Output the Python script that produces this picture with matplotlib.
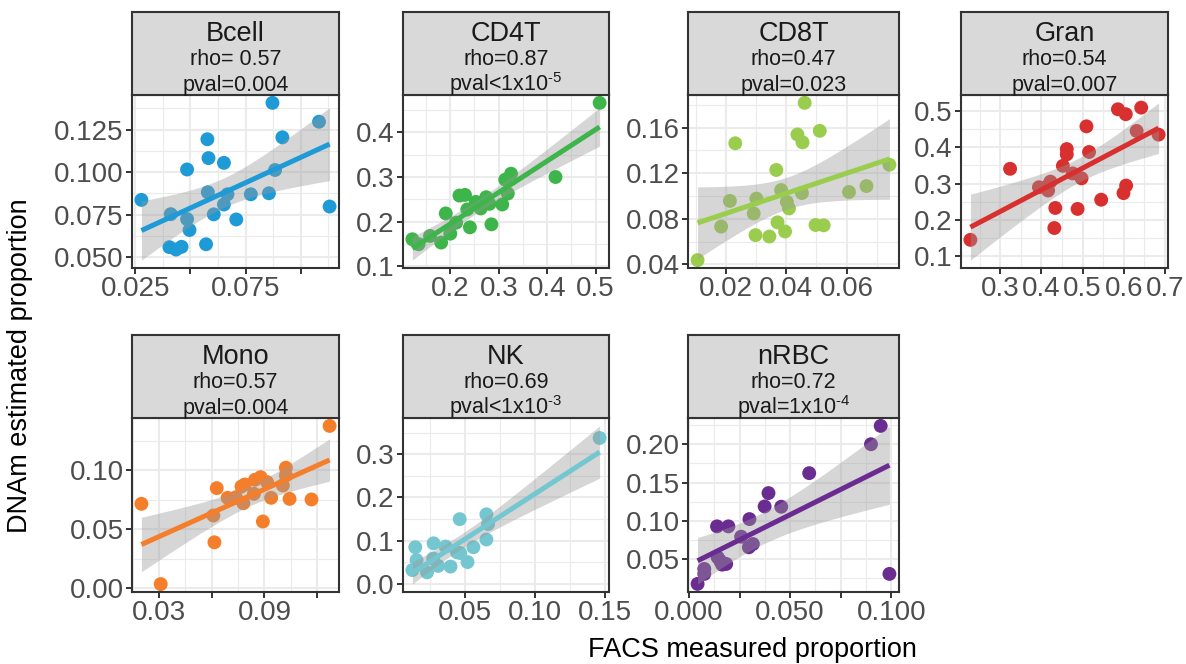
import numpy as np
import matplotlib
matplotlib.use("Agg")
import matplotlib.pyplot as plt
from matplotlib.ticker import FixedLocator, AutoMinorLocator

plt.rcParams['font.family'] = ['Liberation Sans', 'DejaVu Sans']
plt.rcParams['mathtext.fontset'] = 'custom'
plt.rcParams['mathtext.rm'] = 'Liberation Sans'
plt.rcParams['mathtext.it'] = 'Liberation Sans'

# ---------------- data ----------------
bcell_x = [0.0278, 0.0411, 0.0405, 0.0435, 0.0460, 0.0485, 0.0485, 0.0496, 0.0577, 0.0582,
           0.0571, 0.0579, 0.0606, 0.0652, 0.0652, 0.0668, 0.0708, 0.0774, 0.0856, 0.0872,
           0.0884, 0.0917, 0.1083, 0.1131]
bcell_y = [0.0837, 0.0753, 0.0559, 0.0545, 0.0561, 0.1016, 0.0724, 0.0660, 0.1194, 0.1083,
           0.0576, 0.0882, 0.0752, 0.1055, 0.0810, 0.0870, 0.0722, 0.0870, 0.0876, 0.1408,
           0.1013, 0.1205, 0.1297, 0.0798]

cd4t_x = [0.1217, 0.1345, 0.1582, 0.1811, 0.1906, 0.2000, 0.2121, 0.2189, 0.2304, 0.2351,
          0.2405, 0.2526, 0.2628, 0.2742, 0.2810, 0.2850, 0.3073, 0.3134, 0.3188, 0.3255,
          0.4173, 0.5084]
cd4t_y = [0.1607, 0.1496, 0.1681, 0.1533, 0.2185, 0.1733, 0.1978, 0.2585, 0.2600, 0.2274,
          0.1874, 0.2444, 0.2296, 0.2548, 0.2400, 0.1941, 0.2385, 0.2941, 0.2630, 0.3074,
          0.3000, 0.4659]

cd8t_x = [0.0106, 0.0184, 0.0213, 0.0231, 0.0292, 0.0298, 0.0301, 0.0344, 0.0367, 0.0371,
          0.0383, 0.0396, 0.0402, 0.0409, 0.0437, 0.0454, 0.0452, 0.0461, 0.0497, 0.0524,
          0.0511, 0.0608, 0.0666, 0.0742]
cd8t_y = [0.0438, 0.0732, 0.0957, 0.1462, 0.0847, 0.0657, 0.0977, 0.0645, 0.1228, 0.0769,
          0.1052, 0.0689, 0.0948, 0.0891, 0.1539, 0.1470, 0.1026, 0.1816, 0.0746, 0.0743,
          0.1571, 0.1035, 0.1087, 0.1274]

gran_x = [0.2276, 0.3239, 0.3939, 0.4138, 0.4161, 0.4217, 0.4336, 0.4313, 0.4520, 0.4615,
          0.4615, 0.4758, 0.4877, 0.4973, 0.5092, 0.5156, 0.5450, 0.5856, 0.6047, 0.5991,
          0.6055, 0.6310, 0.6421, 0.6843]
gran_y = [0.1453, 0.3407, 0.2900, 0.2919, 0.2810, 0.3054, 0.2330, 0.1778, 0.3489, 0.3950,
          0.3805, 0.3280, 0.2303, 0.3145, 0.4575, 0.3869, 0.2557, 0.5045, 0.4910, 0.2738,
          0.2946, 0.4448, 0.5090, 0.4348]

mono_x = [0.0199, 0.0309, 0.0609, 0.0615, 0.0628, 0.0690, 0.0737, 0.0769, 0.0788, 0.0780,
          0.0840, 0.0846, 0.0878, 0.0891, 0.0915, 0.0938, 0.1005, 0.1022, 0.1022, 0.1043,
          0.1168, 0.1271]
mono_y = [0.0717, 0.0037, 0.0618, 0.0391, 0.0850, 0.0768, 0.0773, 0.0864, 0.0881, 0.0722,
          0.0802, 0.0921, 0.0943, 0.0567, 0.0901, 0.0768, 0.0873, 0.1023, 0.0958, 0.0759,
          0.0754, 0.1377]

nk_x = [0.0124, 0.0145, 0.0154, 0.0229, 0.0276, 0.0273, 0.0308, 0.0362, 0.0397, 0.0444,
        0.0463, 0.0467, 0.0519, 0.0561, 0.0654, 0.0654, 0.0666, 0.1465]
nk_y = [0.0315, 0.0846, 0.0547, 0.0263, 0.0936, 0.0584, 0.0412, 0.0861, 0.0397, 0.0726,
        0.1497, 0.0711, 0.0502, 0.0846, 0.1609, 0.1025, 0.1384, 0.3381]

nrbc_x = [0.0043, 0.0076, 0.0076, 0.0139, 0.0195, 0.0142, 0.0164, 0.0184, 0.0154, 0.0258,
          0.0299, 0.0296, 0.0316, 0.0374, 0.0393, 0.0456, 0.0594, 0.0899, 0.0947, 0.0990]
nrbc_y = [0.0179, 0.0374, 0.0309, 0.0929, 0.0929, 0.0526, 0.0430, 0.0439, 0.0482, 0.0794,
          0.1024, 0.0656, 0.0699, 0.1189, 0.1363, 0.1185, 0.1623, 0.2000, 0.2239, 0.0309]

names  = ['Bcell', 'CD4T', 'CD8T', 'Gran', 'Mono', 'NK', 'nRBC']
rhos   = ['rho= 0.57', 'rho=0.87', 'rho=0.47', 'rho=0.54', 'rho=0.57', 'rho=0.69', 'rho=0.72']
pvals  = ['pval=0.004', r'pval<1x10$^{\text{-5}}$', 'pval=0.023', 'pval=0.007',
          'pval=0.004', r'pval<1x10$^{\text{-3}}$', r'pval=1x10$^{\text{-4}}$']
colors = ['#1E9AD6', '#3EB54A', '#9ACD4E', '#D7302F', '#F47E2A', '#74C7D0', '#6B2C91']

xticks = [[0.025, 0.05, 0.075, 0.1], [0.2, 0.3, 0.4, 0.5], [0.02, 0.04, 0.06],
          [0.3, 0.4, 0.5, 0.6, 0.7], [0.03, 0.06, 0.09, 0.12], [0.05, 0.10, 0.15],
          [0.0, 0.025, 0.05, 0.075, 0.1]]
xlabs = [['0.025', '', '0.075', ''], ['0.2', '0.3', '0.4', '0.5'], ['0.02', '0.04', '0.06'],
         ['0.3', '0.4', '0.5', '0.6', '0.7'], ['0.03', '', '0.09', ''], ['0.05', '0.10', '0.15'],
         ['0.000', '', '0.050', '', '0.100']]
yticks = [[0.05, 0.075, 0.1, 0.125], [0.1, 0.2, 0.3, 0.4], [0.04, 0.08, 0.12, 0.16],
          [0.1, 0.2, 0.3, 0.4, 0.5], [0.0, 0.05, 0.10], [0.0, 0.1, 0.2, 0.3],
          [0.05, 0.10, 0.15, 0.20]]
ylabs = [['0.050', '0.075', '0.100', '0.125'], ['0.1', '0.2', '0.3', '0.4'],
         ['0.04', '0.08', '0.12', '0.16'], ['0.1', '0.2', '0.3', '0.4', '0.5'],
         ['0.00', '0.05', '0.10'], ['0.0', '0.1', '0.2', '0.3'],
         ['0.05', '0.10', '0.15', '0.20']]

xs = [bcell_x, cd4t_x, cd8t_x, gran_x, mono_x, nk_x, nrbc_x]
ys = [bcell_y, cd4t_y, cd8t_y, gran_y, mono_y, nk_y, nrbc_y]


#~~~~~~~~~~~~~~~~~~~~~~~~~~~~~~~~~~~~~~~~~~~~~~~~~~~~~~~
# t quantile (0.975) approximation, no scipy around
#~~~~~~~~~~~~~~~~~~~~~~~~~~~~~~~~~~~~~~~~~~~~~~~~~~~~~~~
def t975(df):
    z = 1.959964
    return (z + (z**3 + z) / (4 * df) + (5 * z**5 + 16 * z**3 + 3 * z) / (96 * df**2)
            + (3 * z**7 + 19 * z**5 + 17 * z**3 - 15 * z) / (384 * df**3))


def lm_band(x, y):
    x = np.asarray(x); y = np.asarray(y)
    n = len(x)
    b1, b0 = np.polyfit(x, y, 1)
    res = y - (b0 + b1 * x)
    s = np.sqrt(np.sum(res**2) / (n - 2))
    xbar = x.mean()
    sxx = np.sum((x - xbar)**2)
    xg = np.linspace(x.min(), x.max(), 80)
    yg = b0 + b1 * xg
    se = s * np.sqrt(1.0 / n + (xg - xbar)**2 / sxx)
    t = t975(n - 2)
    return xg, yg, yg - t * se, yg + t * se


W, H = 1186, 664
fig = plt.figure(figsize=(W / 100, H / 100), dpi=100)

cols = [(132, 207), (403, 206), (688, 211), (961, 207)]
rows = [(95, 268, 12), (418, 592, 335)]   # plot top, plot bottom, strip top

edge = '#333333'
for k in range(7):
    r, c = divmod(k, 4)
    x0, w = cols[c]
    ptop, pbot, stop = rows[r]
    ax = fig.add_axes([x0 / W, 1 - pbot / H, w / W, (pbot - ptop) / H])
    sax = fig.add_axes([x0 / W, 1 - ptop / H, w / W, (ptop - stop) / H])

    ax.set_axisbelow(True)
    ax.scatter(xs[k], ys[k], s=100, color=colors[k], edgecolors='none', zorder=2)
    xg, yg, lo, hi = lm_band(xs[k], ys[k])
    ax.fill_between(xg, lo, hi, color='#999999', alpha=0.4, lw=0, zorder=3)
    ax.plot(xg, yg, color=colors[k], lw=3.6, zorder=4, solid_capstyle='butt')
    ax.margins(0.05)

    ax.xaxis.set_major_locator(FixedLocator(xticks[k]))
    ax.yaxis.set_major_locator(FixedLocator(yticks[k]))
    ax.set_xticklabels(xlabs[k])
    ax.set_yticklabels(ylabs[k])
    ax.xaxis.set_minor_locator(AutoMinorLocator(2))
    ax.yaxis.set_minor_locator(AutoMinorLocator(2))
    ax.grid(which='major', color='#EBEBEB', lw=1.5)
    ax.grid(which='minor', color='#EBEBEB', lw=0.8)
    ax.tick_params(which='minor', length=0)
    ax.tick_params(which='major', length=4, width=1.4, color=edge, labelsize=20,
                   labelcolor='#4D4D4D', pad=2)
    for sp in ax.spines.values():
        sp.set_color(edge)
        sp.set_linewidth(1.5)

    sax.set_facecolor('#D9D9D9')
    sax.set_xticks([]); sax.set_yticks([])
    sax.set_xlim(0, 1); sax.set_ylim(0, 1)
    for sp in sax.spines.values():
        sp.set_color(edge)
        sp.set_linewidth(1.5)
    sh = ptop - stop
    sax.text(0.5, 1 - 29 / sh, names[k], ha='center', va='baseline', fontsize=19.5,
             color='#1A1A1A')
    sax.text(0.5, 1 - 53 / sh, rhos[k], ha='center', va='baseline', fontsize=15.5,
             color='#1A1A1A')
    sax.text(0.5, 1 - 79 / sh, pvals[k], ha='center', va='baseline', fontsize=15.5,
             color='#1A1A1A')

fig.text(20 / W, 1 - 366 / H, 'DNAm estimated proportion', rotation=90,
         ha='center', va='center', fontsize=19.5, color='black')
fig.text(752 / W, 1 - 657 / H, 'FACS measured proportion', ha='center',
         va='baseline', fontsize=19.5, color='black')

fig.savefig('out.png', dpi=100)
